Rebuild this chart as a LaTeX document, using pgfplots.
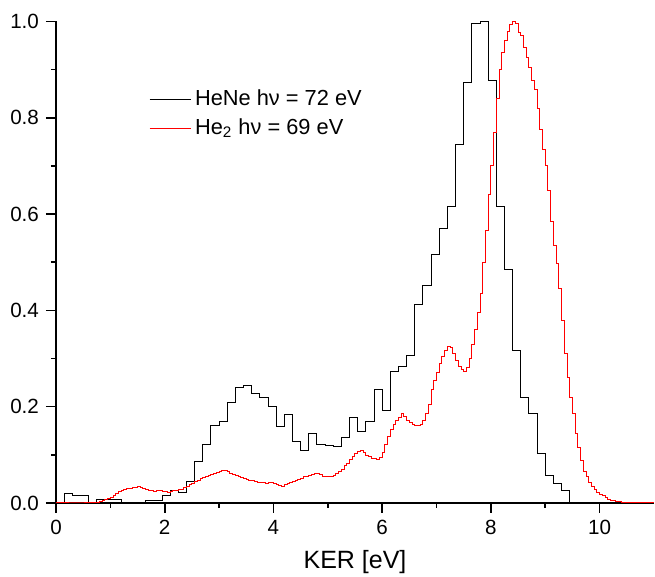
\documentclass[border=0pt]{standalone}
\usepackage{pgfplots}
\pgfplotsset{compat=1.18}
\usepackage{fontspec}
\setmainfont{Liberation Sans}
\begin{document}
\begin{tikzpicture}
\useasboundingbox (-28pt,-37pt) rectangle (299.5pt,251.5pt);
\begin{axis}[
  at={(0pt,0pt)}, anchor=south west,
  scale only axis,
  width=299pt, height=240.75pt,
  xmin=0, xmax=11, ymin=0, ymax=1.0,
  axis lines*=left,
  axis line style={line width=1pt},
  tick align=outside,
  major tick length=5pt, minor tick length=2.5pt,
  tick style={line width=0.8pt, black},
  xtick={0,2,4,6,8,10}, minor x tick num=1,
  ytick={0,0.2,0.4,0.6,0.8,1.0}, minor y tick num=1,
  yticklabel style={/pgf/number format/fixed, /pgf/number format/fixed zerofill, /pgf/number format/precision=1},
  /pgf/number format/assume math mode=true,
  tick label style={font=\fontsize{10.3}{12}\selectfont},
  xlabel={KER [eV]},
  xlabel style={font=\fontsize{12.5}{14}\selectfont, yshift=-1.2pt},
  legend style={draw=none, fill=none, at={(rel axis cs:0.145,0.875)}, anchor=north west,
    font=\fontsize{10.9}{13}\selectfont, row sep=1pt},
  legend cell align=left,
  legend image code/.code={\draw[#1] (0cm,0cm) -- (0.72cm,0cm);},
  clip=false,
]
\addplot[black, line width=0.5pt, const plot mark left] coordinates {
(0,0) (0.15,0.0195) (0.30,0.0146) (0.45,0.0146) (0.60,0.002) (0.75,0.007) (0.90,0.007) (1.05,0.007)
(1.20,0.000) (1.35,0.002) (1.50,0.002) (1.65,0.005) (1.80,0.005) (1.95,0.015) (2.10,0.025) (2.25,0.021)
(2.40,0.044) (2.55,0.087) (2.70,0.121) (2.85,0.160) (3.00,0.169) (3.15,0.208) (3.30,0.240) (3.45,0.245)
(3.60,0.227) (3.75,0.220) (3.90,0.201) (4.05,0.158) (4.20,0.184) (4.35,0.128) (4.50,0.108) (4.65,0.144)
(4.80,0.121) (4.95,0.120) (5.10,0.117) (5.25,0.135) (5.40,0.178) (5.55,0.148) (5.70,0.169) (5.85,0.236)
(6.00,0.193) (6.15,0.274) (6.30,0.283) (6.45,0.306) (6.60,0.413) (6.75,0.452) (6.90,0.516) (7.05,0.570)
(7.20,0.616) (7.35,0.745) (7.50,0.874) (7.65,0.996) (7.80,1.000) (7.95,0.877) (8.10,0.615) (8.25,0.484)
(8.40,0.316) (8.55,0.220) (8.70,0.185) (8.85,0.102) (9.00,0.058) (9.15,0.040) (9.30,0.025) (9.45,0.000)
(9.60,0.000)
};
\addlegendentry{HeNe hν = 72 eV}
\addplot[red, line width=0.5pt, const plot mark left] coordinates {
(0.00,0) (0.50,0.000) (0.55,0.001) (0.60,0.001) (0.65,0.001) (0.70,0.002) (0.75,0.002) (0.80,0.003)
(0.85,0.005) (0.90,0.007) (0.95,0.009) (1.00,0.012) (1.05,0.016) (1.10,0.020) (1.15,0.023) (1.20,0.026)
(1.25,0.028) (1.30,0.030) (1.35,0.031) (1.40,0.032) (1.45,0.033) (1.50,0.034) (1.55,0.032) (1.60,0.030)
(1.65,0.027) (1.70,0.026) (1.75,0.025) (1.80,0.024) (1.85,0.025) (1.90,0.026) (1.95,0.024) (2.00,0.023)
(2.05,0.022) (2.10,0.024) (2.15,0.025) (2.20,0.026) (2.25,0.027) (2.30,0.029) (2.35,0.032) (2.40,0.035)
(2.45,0.038) (2.50,0.041) (2.55,0.044) (2.60,0.047) (2.65,0.050) (2.70,0.052) (2.75,0.055) (2.80,0.057)
(2.85,0.059) (2.90,0.062) (2.95,0.064) (3.00,0.066) (3.05,0.068) (3.10,0.068) (3.15,0.066) (3.20,0.062)
(3.25,0.060) (3.30,0.058) (3.35,0.055) (3.40,0.053) (3.45,0.051) (3.50,0.048) (3.55,0.047) (3.60,0.046)
(3.65,0.044) (3.70,0.043) (3.75,0.042) (3.80,0.043) (3.85,0.041) (3.90,0.042) (3.95,0.042) (4.00,0.040)
(4.05,0.039) (4.10,0.036) (4.15,0.035) (4.20,0.038) (4.25,0.040) (4.30,0.042) (4.35,0.045) (4.40,0.047)
(4.45,0.049) (4.50,0.051) (4.55,0.054) (4.60,0.056) (4.65,0.058) (4.70,0.060) (4.75,0.062) (4.80,0.062)
(4.85,0.059) (4.90,0.056) (4.95,0.055) (5.00,0.054) (5.05,0.055) (5.10,0.058) (5.15,0.062) (5.20,0.065)
(5.25,0.070) (5.30,0.077) (5.35,0.083) (5.40,0.090) (5.45,0.097) (5.50,0.102) (5.55,0.106) (5.60,0.108)
(5.65,0.105) (5.70,0.099) (5.75,0.096) (5.80,0.093) (5.85,0.092) (5.90,0.091) (5.95,0.094) (6.00,0.105)
(6.05,0.122) (6.10,0.138) (6.15,0.152) (6.20,0.163) (6.25,0.172) (6.30,0.178) (6.35,0.185) (6.40,0.180)
(6.45,0.172) (6.50,0.167) (6.55,0.163) (6.60,0.161) (6.65,0.160) (6.70,0.164) (6.75,0.172) (6.80,0.185)
(6.85,0.205) (6.90,0.235) (6.95,0.255) (7.00,0.272) (7.05,0.290) (7.10,0.305) (7.15,0.316) (7.20,0.325)
(7.25,0.322) (7.30,0.311) (7.35,0.296) (7.40,0.284) (7.45,0.277) (7.50,0.273) (7.55,0.282) (7.60,0.300)
(7.65,0.330) (7.70,0.360) (7.75,0.395) (7.80,0.435) (7.85,0.500) (7.90,0.565) (7.95,0.640) (8.00,0.700)
(8.05,0.770) (8.10,0.840) (8.15,0.900) (8.20,0.935) (8.25,0.960) (8.30,0.980) (8.35,0.993) (8.40,1.000)
(8.45,0.995) (8.50,0.978) (8.55,0.970) (8.60,0.945) (8.65,0.925) (8.70,0.905) (8.75,0.878) (8.80,0.858)
(8.85,0.820) (8.90,0.775) (8.95,0.735) (9.00,0.700) (9.05,0.650) (9.10,0.585) (9.15,0.535) (9.20,0.498)
(9.25,0.445) (9.30,0.380) (9.35,0.310) (9.40,0.260) (9.45,0.220) (9.50,0.185) (9.55,0.145) (9.60,0.115)
(9.65,0.088) (9.70,0.066) (9.75,0.054) (9.80,0.043) (9.85,0.034) (9.90,0.027) (9.95,0.022) (10.00,0.018)
(10.05,0.015) (10.10,0.011) (10.15,0.008) (10.20,0.006) (10.25,0.005) (10.30,0.004) (10.35,0.003) (10.40,0.002)
(10.50,0.001) (10.60,0.001) (10.70,0.000) (11.00,0.000)
};
\addlegendentry{He\textsubscript{2} hν = 69 eV}
\end{axis}
\end{tikzpicture}
\end{document}
